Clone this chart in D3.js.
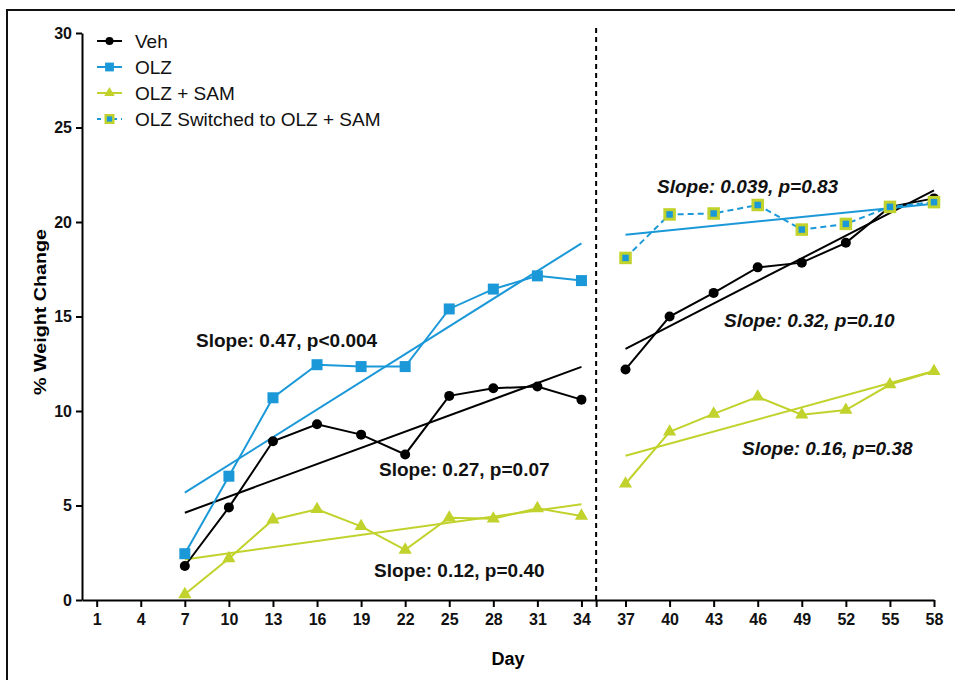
<!DOCTYPE html>
<html>
<head>
<meta charset="utf-8">
<script src="https://cdn.jsdelivr.net/npm/d3@7"></script>
<style>
  body { margin: 0; background: #fff; }
  svg { display: block; font-family: 'Liberation Sans', Arial, sans-serif; }
  .axis path, .axis line { stroke: #000; stroke-width: 2; }
  .axis text { font-size: 16px; font-weight: bold; fill: #111; }
</style>
</head>
<body>
<div id="chart"></div>
<script>
// days of each phase (before / after the switch on day 35)
const days1 = [7, 10, 13, 16, 19, 22, 25, 28, 31, 34]
const days2 = [37, 40, 43, 46, 49, 52, 55, 58]

// % weight change
const veh1 = [1.8, 4.9, 8.4, 9.3, 8.75, 7.7, 10.8, 11.2, 11.3, 10.6]
const olz1 = [2.45, 6.55, 10.7, 12.45, 12.35, 12.35, 15.4, 16.45, 17.15, 16.9]
const olzSam1 = [0.3, 2.2, 4.25, 4.8, 3.9, 2.65, 4.35, 4.3, 4.85, 4.45]

const veh2 = [12.2, 15.0, 16.25, 17.6, 17.85, 18.9, 20.8, 21.25]
const switched2 = [18.1, 20.4, 20.45, 20.9, 19.6, 19.9, 20.8, 21.05]
const olzSam2 = [6.15, 8.9, 9.85, 10.75, 9.8, 10.05, 11.4, 12.1]

const xTicks = [1, 4, 7, 10, 13, 16, 19, 22, 25, 28, 31, 34, 37, 40, 43, 46, 49, 52, 55, 58]
const yTicks = [0, 5, 10, 15, 20, 25, 30]
const switchDay = 35

const legendLabels = ['Veh', 'OLZ', 'OLZ + SAM', 'OLZ Switched to OLZ + SAM']
const slopeLabels = [
  'Slope: 0.47, p<0.004',
  'Slope: 0.27, p=0.07',
  'Slope: 0.12, p=0.40',
  'Slope: 0.039, p=0.83',
  'Slope: 0.32, p=0.10',
  'Slope: 0.16, p=0.38'
]

const BLACK = '#000'
const BLUE = '#1b98d8'
const GREEN = '#c0d22b'

const width = 955
const height = 680

const svg = d3.select('#chart').append('svg')
  .attr('width', width)
  .attr('height', height)

// frame round the figure
svg.append('rect')
  .attr('x', 7).attr('y', 10)
  .attr('width', 1000).attr('height', 700)
  .attr('fill', 'none')
  .attr('stroke', '#111')
  .attr('stroke-width', 2)

const xScale = d3.scaleLinear().domain([0, 58]).range([82, 934])
const yScale = d3.scaleLinear().domain([0, 30]).range([600, 33])

// axes
svg.append('g')
  .attr('class', 'x axis')
  .attr('transform', `translate(0,${yScale(0)})`)
  .call(d3.axisBottom(xScale)
    .tickValues(xTicks.concat([switchDay]))
    .tickFormat(d => d === switchDay ? '' : d)
    .tickSize(7)
    .tickSizeOuter(0)
    .tickPadding(7))

svg.append('g')
  .attr('class', 'y axis')
  .attr('transform', `translate(${xScale(0)},0)`)
  .call(d3.axisLeft(yScale)
    .tickValues(yTicks)
    .tickSize(6)
    .tickSizeOuter(0)
    .tickPadding(4))

svg.append('text')
  .attr('x', 508).attr('y', 665)
  .attr('text-anchor', 'middle')
  .style('font-size', '18px').style('font-weight', 'bold')
  .text('Day')

svg.append('text')
  .attr('transform', 'translate(46,312) rotate(-90)')
  .attr('text-anchor', 'middle')
  .attr('textLength', 166)
  .attr('lengthAdjust', 'spacingAndGlyphs')
  .style('font-size', '17px').style('font-weight', 'bold')
  .text('% Weight Change')

// dashed divider at the switch
svg.append('line')
  .attr('x1', xScale(switchDay)).attr('x2', xScale(switchDay))
  .attr('y1', 28).attr('y2', yScale(0))
  .attr('stroke', BLACK)
  .attr('stroke-width', 2)
  .attr('stroke-dasharray', '5,4')

// least squares fit, drawn from first to last day
const fitLine = (xs, ys) => {
  const mx = d3.mean(xs)
  const my = d3.mean(ys)
  const sxy = d3.sum(xs, (x, i) => (x - mx) * (ys[i] - my))
  const sxx = d3.sum(xs, x => (x - mx) * (x - mx))
  const b = sxy / sxx
  const a = my - b * mx
  return [xs[0], xs[xs.length - 1]].map(x => [x, a + b * x])
}

const line = d3.line()
  .x(d => xScale(d[0]))
  .y(d => yScale(d[1]))

// order matters: later groups sit on top
const groups = [
  { days: days1, values: olz1, color: BLUE, marker: 'square' },
  { days: days1, values: veh1, color: BLACK, marker: 'circle' },
  { days: days1, values: olzSam1, color: GREEN, marker: 'triangle' },
  { days: days2, values: veh2, color: BLACK, marker: 'circle' },
  { days: days2, values: olzSam2, color: GREEN, marker: 'triangle' },
  { days: days2, values: switched2, color: BLUE, marker: 'switched', dashed: true }
]

const drawMarker = (g, type, x, y, big) => {
  const k = big ? 1 : 0.8
  if (type === 'circle') {
    g.append('circle').attr('cx', x).attr('cy', y).attr('r', 5 * k).attr('fill', BLACK)
  } else if (type === 'square') {
    const s = 11 * k
    g.append('rect').attr('x', x - s / 2).attr('y', y - s / 2)
      .attr('width', s).attr('height', s).attr('fill', BLUE)
  } else if (type === 'triangle') {
    g.append('path')
      .attr('d', d3.symbol().type(d3.symbolTriangle).size(75 * k * k)())
      .attr('transform', `translate(${x},${y})`)
      .attr('fill', GREEN)
  } else {
    const s = 9.5 * k
    g.append('rect').attr('x', x - s / 2).attr('y', y - s / 2)
      .attr('width', s).attr('height', s)
      .attr('fill', BLUE).attr('stroke', GREEN).attr('stroke-width', 3 * k)
  }
}

// fit lines first, then the data lines, markers on top
groups.forEach(grp => {
  svg.append('path')
    .datum(fitLine(grp.days, grp.values))
    .attr('d', line)
    .attr('fill', 'none')
    .attr('stroke', grp.color)
    .attr('stroke-width', 2)
})

groups.forEach(grp => {
  svg.append('path')
    .datum(grp.days.map((d, i) => [d, grp.values[i]]))
    .attr('d', line)
    .attr('fill', 'none')
    .attr('stroke', grp.color)
    .attr('stroke-width', 2)
    .attr('stroke-dasharray', grp.dashed ? '6,4' : null)
})

const markers = svg.append('g')
groups.forEach(grp => {
  grp.days.forEach((d, i) => drawMarker(markers, grp.marker, xScale(d), yScale(grp.values[i]), true))
})

// slope annotations
const slopePos = [[196, 347], [379, 476], [374, 577], [657, 193], [724, 327], [742, 455]]
svg.selectAll('.slope')
  .data(slopeLabels)
  .enter().append('text')
  .attr('class', 'slope')
  .attr('x', (d, i) => slopePos[i][0])
  .attr('y', (d, i) => slopePos[i][1])
  .style('font-size', '19px')
  .style('font-weight', 'bold')
  .style('font-style', (d, i) => i >= 3 ? 'italic' : 'normal')
  .attr('fill', '#111')
  .text(d => d)

// legend
const legendTypes = ['circle', 'square', 'triangle', 'switched']
const legendColors = [BLACK, BLUE, GREEN, BLUE]
const legend = svg.append('g')
legendLabels.forEach((label, i) => {
  const y = 41 + i * 26
  legend.append('line')
    .attr('x1', 97).attr('x2', 122)
    .attr('y1', y).attr('y2', y)
    .attr('stroke', legendColors[i])
    .attr('stroke-width', 2)
    .attr('stroke-dasharray', i === 3 ? '4,4' : null)
  drawMarker(legend, legendTypes[i], 109.5, y, false)
  legend.append('text')
    .attr('x', 135).attr('y', y + 7)
    .style('font-size', '19px')
    .attr('fill', '#111')
    .text(label)
})
</script>
</body>
</html>
